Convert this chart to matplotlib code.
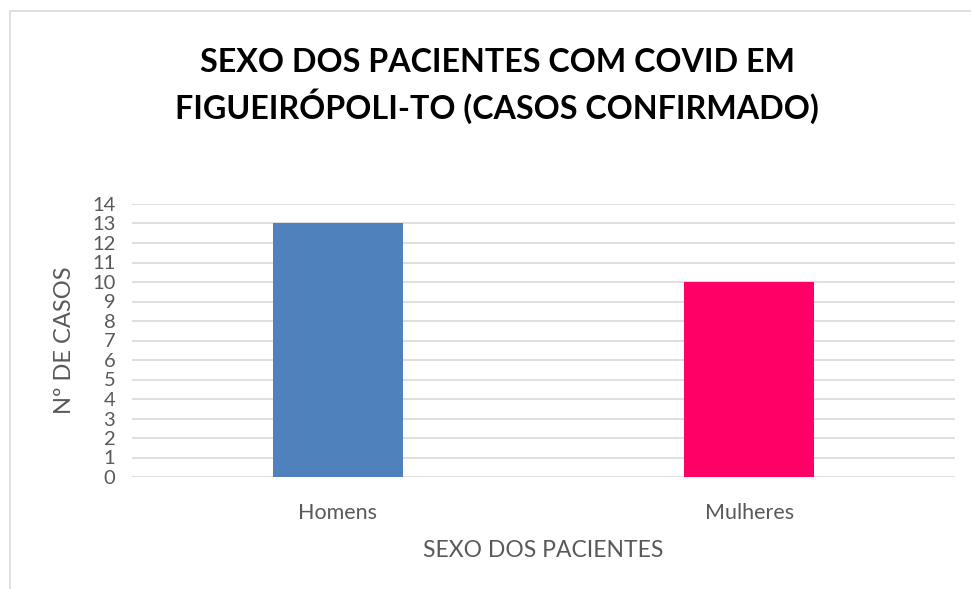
import matplotlib.pyplot as plt
from matplotlib.patches import Rectangle
import numpy as np

categorias = ['Homens', 'Mulheres']
casos = [13, 10]
cores = ['#4F81BD', '#FF0066']
ticks_y = list(range(0, 15))

plt.rcParams['font.family'] = ['Lato', 'DejaVu Sans']

fig = plt.figure(figsize=(9.71, 5.89), dpi=100)
W, H = 971, 589

# moldura do grafico (so topo e lado esquerdo aparecem no recorte)
fig.patches.append(Rectangle((10 / W, -0.05), 1, 1.05 - 11 / H, transform=fig.transFigure,
                             fill=False, edgecolor='#D9D9D9', lw=1.2))

ax = fig.add_axes([132 / W, 1 - 477 / H, (955 - 132) / W, (477 - 204) / H])
x = np.arange(len(categorias))
ax.bar(x, casos, width=0.316, color=cores, zorder=3)
ax.set_xlim(-0.5, 1.5)
ax.set_ylim(0, 14)
ax.set_yticks(ticks_y)
ax.set_xticks(x)
ax.set_xticklabels(categorias, fontsize=15.5, color='#595959')
ax.tick_params(axis='y', labelsize=14.5, colors='#595959', length=0, pad=12)
ax.tick_params(axis='x', length=0, pad=19)
ax.grid(axis='y', color='#D9D9D9', lw=1.2, zorder=0)
for s in ax.spines.values():
    s.set_visible(False)

ax.set_ylabel('Nº DE CASOS', fontsize=17, color='#595959', labelpad=12)
ax.set_xlabel('SEXO DOS PACIENTES', fontsize=16.5, color='#595959', labelpad=12)

fig.text(497 / W, 1 - 86 / H, 'SEXO DOS PACIENTES COM COVID EM\nFIGUEIRÓPOLI-TO (CASOS CONFIRMADO)',
         ha='center', va='center', fontsize=23.2, fontweight='bold', color='black', linespacing=1.4)

fig.savefig('out.png', dpi=100)
